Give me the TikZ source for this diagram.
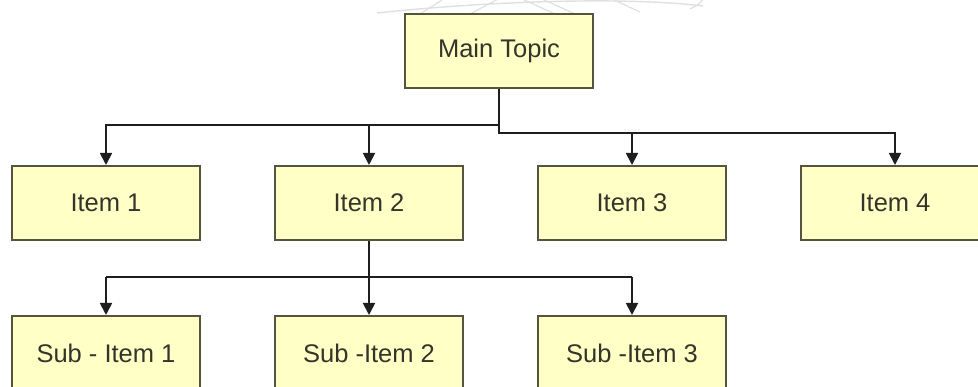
\documentclass[tikz,border=0pt]{standalone}
\usepackage{fontspec}
\setmainfont{Liberation Sans}
\usetikzlibrary{arrows.meta}
\definecolor{boxfill}{HTML}{FFFFC6}
\definecolor{boxline}{HTML}{55553F}
\definecolor{boxtext}{HTML}{34342A}
\definecolor{wire}{HTML}{1E1E1E}
\definecolor{swoosh}{HTML}{E0E0E0}
\begin{document}
\begin{tikzpicture}[x=1pt,y=-1pt,
  topic/.style={draw=boxline, fill=boxfill, line width=2pt,
    minimum width=188pt, minimum height=74pt, inner sep=0pt,
    text=boxtext, font=\fontsize{25.5}{29}\selectfont},
  link/.style={draw=wire, line width=1.8pt},
  arrowlink/.style={link, -{Triangle[width=12pt,length=12pt]}}]
\useasboundingbox (0,0) rectangle (978,387);
\begin{scope}
\clip (0,0) rectangle (978,387);

% faint swoosh in the top band
\begin{scope}
\clip (360,0) rectangle (720,14);
\draw[swoosh, line width=1.4pt] (377,13) .. controls (480,2) and (620,-4) .. (703,6);
\draw[swoosh, line width=1.2pt] (420,14) -- (445,-2);
\draw[swoosh, line width=1.2pt] (470,14) -- (500,-2);
\draw[swoosh, line width=1.2pt] (555,14) -- (520,-2);
\draw[swoosh, line width=1.2pt] (575,14) -- (540,-2);
\draw[swoosh, line width=1.2pt] (640,12) -- (610,-2);
\draw[swoosh, line width=1.2pt] (690,9) .. controls (700,4) .. (703,-2);
\end{scope}

% boxes
\node[topic] (main) at (499,51) {Main Topic};
\node[topic] (i1) at (106,203) {Item 1};
\node[topic] (i2) at (369,203) {Item 2};
\node[topic] (i3) at (632,203) {Item 3};
\node[topic] (i4) at (895,203) {Item 4};
\node[topic] (s1) at (106,353) {Sub - Item 1};
\node[topic] (s2) at (369,353) {Sub -Item 2};
\node[topic] (s3) at (632,353) {Sub -Item 3};

% junction points of the connectors
\coordinate (jl) at (499,125);
\coordinate (jr) at (499,133);
\coordinate (js) at (369,277);

% main topic to items
\draw[arrowlink] (main.south) -- (jr) -| (i4.north);
\draw[arrowlink] (jr -| i3.north) -- (i3.north);
\draw[arrowlink] (jl) -| (i1.north);
\draw[arrowlink] (jl -| i2.north) -- (i2.north);

% item 2 to sub-items
\draw[arrowlink] (i2.south) -- (s2.north);
\draw[link] (js -| s1.north) -- (js -| s3.north);
\draw[arrowlink] (js -| s1.north) -- (s1.north);
\draw[arrowlink] (js -| s3.north) -- (s3.north);
\end{scope}
\end{tikzpicture}
\end{document}
